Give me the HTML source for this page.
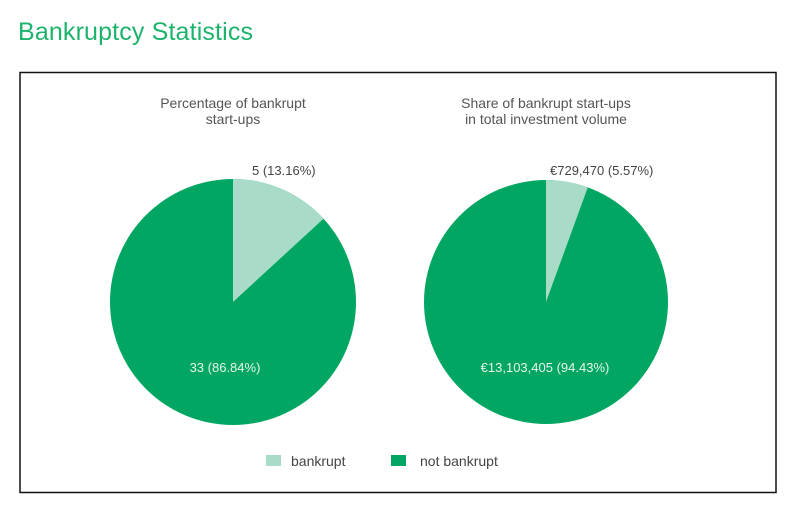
<!DOCTYPE html>
<html><head><style>
body{margin:0;background:#fff;width:798px;height:519px;overflow:hidden;font-family:"Liberation Sans",sans-serif;}
</style></head><body>
<svg width="798" height="519" xmlns="http://www.w3.org/2000/svg" font-family="Liberation Sans, sans-serif">
<text x="18" y="40" font-size="25" fill="#1db36c" textLength="235">Bankruptcy Statistics</text>
<rect x="20" y="72.5" width="756" height="420" fill="#fff" stroke="#111" stroke-width="1.5"/>
<g fill="#555" font-size="14" text-anchor="middle">
<text x="233" y="108">Percentage of bankrupt</text>
<text x="233" y="124">start-ups</text>
<text x="546" y="108">Share of bankrupt start-ups</text>
<text x="546" y="124">in total investment volume</text>
</g>
<circle cx="233" cy="302" r="123" fill="#00a661"/>
<path d="M233,302 L233,179 A123,123 0 0 1 323.5,218.7 Z" fill="#a9dcc8"/>
<circle cx="546" cy="302" r="122" fill="#00a661"/>
<path d="M546,302 L546,180 A122,122 0 0 1 587.8,187.4 Z" fill="#a9dcc8"/>
<g font-size="13" fill="#444">
<text x="252" y="175">5 (13.16%)</text>
<text x="550" y="175">€729,470 (5.57%)</text>
</g>
<g font-size="13" fill="#e8f5ee" text-anchor="middle">
<text x="225" y="372">33 (86.84%)</text>
<text x="545" y="372">€13,103,405 (94.43%)</text>
</g>
<rect x="266" y="455" width="15" height="11" fill="#a9dcc8"/>
<text x="291" y="466" font-size="14" fill="#444">bankrupt</text>
<rect x="391" y="455" width="15" height="11" fill="#00a661"/>
<text x="420" y="466" font-size="14" fill="#444">not bankrupt</text>
</svg>
</body></html>
